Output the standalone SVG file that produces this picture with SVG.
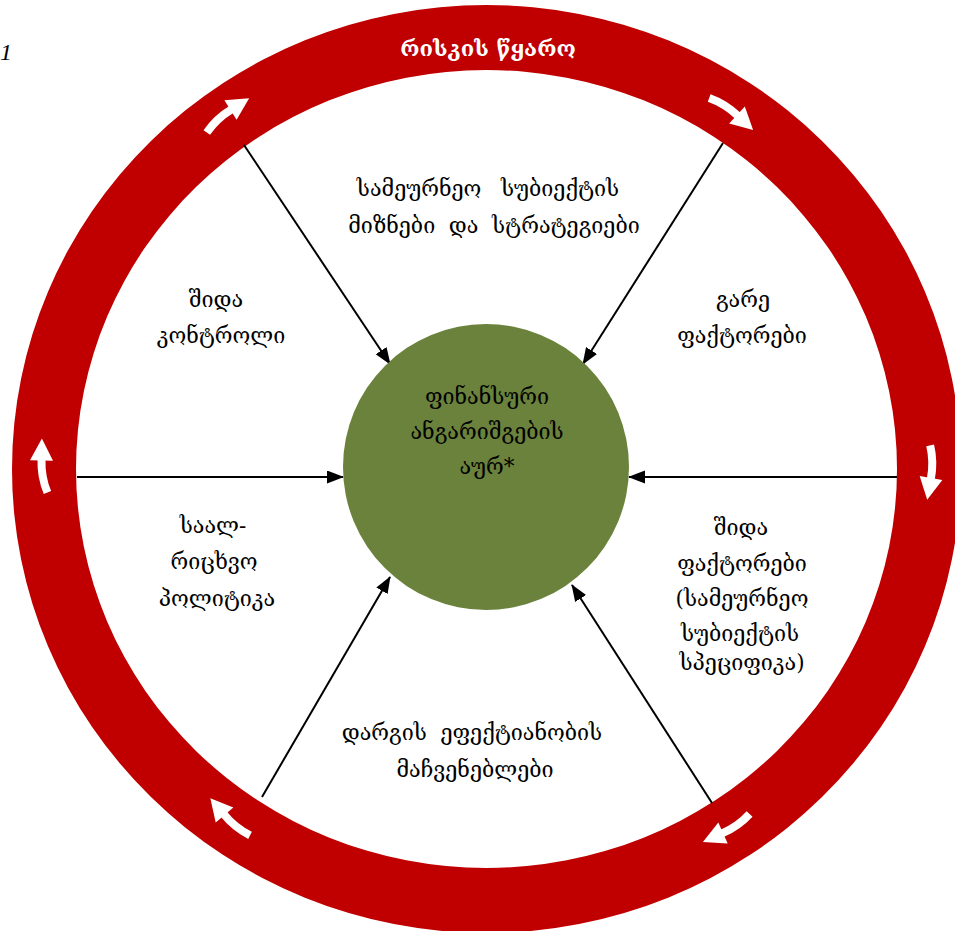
<svg xmlns="http://www.w3.org/2000/svg" width="955" height="931" viewBox="0 0 955 931">
<style>
.t{font-family:"DejaVu Serif","DejaVu Sans",serif;font-size:21.5px;fill:#000;text-anchor:middle}
.w{font-family:"DejaVu Serif","DejaVu Sans",serif;font-size:22px;fill:#fff;text-anchor:middle;font-weight:bold}
.c{stroke:#000;stroke-width:2;fill:none;marker-end:url(#ah)}
</style>
<defs>
<marker id="ah" markerUnits="userSpaceOnUse" markerWidth="18" markerHeight="14" refX="16" refY="6.5" orient="auto"><path d="M0,0 L17,6.5 L0,13 z" fill="#000"/></marker>
<g id="wa"><path d="M-32,6.5 A80,80 0 0 1 1,0" stroke="#fff" stroke-width="8" fill="none"/><polygon points="0,-11.5 22,0 0,11.5" fill="#fff"/></g>
</defs>
<rect width="955" height="931" fill="#fff"/>
<text x="0" y="60" font-family="Liberation Serif" font-style="italic" font-size="24">1</text>
<g id="ring">
<path fill="#C00000" fill-rule="evenodd" d="M12,469 A474.5,464 0 1 0 961,469 A474.5,464 0 1 0 12,469 Z M76,469 A410.5,399 0 1 0 897,469 A410.5,399 0 1 0 76,469 Z"/>
<text class="w" x="488" y="56">რისკის წყარო</text>
<use href="#wa" transform="translate(230.5,110) rotate(-32)"/>
<use href="#wa" transform="translate(737,115) rotate(43)"/>
<use href="#wa" transform="translate(931,478) rotate(100)"/>
<use href="#wa" transform="translate(723,833) rotate(156)"/>
<use href="#wa" transform="translate(224.5,815) rotate(-130)"/>
<use href="#wa" transform="translate(41.5,460.5) rotate(-89)"/>
</g>
<g id="connectors">
<line class="c" x1="244" y1="145" x2="390" y2="364"/>
<line class="c" x1="723" y1="143" x2="583" y2="364"/>
<line class="c" x1="77" y1="477" x2="343" y2="477"/>
<line class="c" x1="897" y1="477" x2="629" y2="477"/>
<line class="c" x1="262" y1="797" x2="390" y2="577"/>
<line class="c" x1="712" y1="803" x2="572" y2="585"/>
</g>
<g id="center">
<circle cx="486" cy="467" r="143" fill="#6A823B"/>
<text class="t" x="487" y="404">ფინანსური</text>
<text class="t" x="487" y="439">ანგარიშგების</text>
<text class="t" x="487" y="474">აურ*</text>
</g>
<g id="n-top">
<text class="t" x="488" y="196" xml:space="preserve" word-spacing="3">სამეურნეო  სუბიექტის</text>
<text class="t" x="494" y="233" xml:space="preserve">მიზნები  და  სტრატეგიები</text>
</g>
<g id="n-ul">
<text class="t" x="216" y="307">შიდა</text>
<text class="t" x="221" y="343">კონტროლი</text>
</g>
<g id="n-ur">
<text class="t" x="743" y="307">გარე</text>
<text class="t" x="742" y="343">ფაქტორები</text>
</g>
<g id="n-ll">
<text class="t" x="213" y="533">საალ-</text>
<text class="t" x="214" y="569">რიცხვო</text>
<text class="t" x="217" y="606">პოლიტიკა</text>
</g>
<g id="n-lr">
<text class="t" x="741" y="535">შიდა</text>
<text class="t" x="742" y="571">ფაქტორები</text>
<text class="t" x="742" y="606">(სამეურნეო</text>
<text class="t" x="740" y="641">სუბიექტის</text>
<text class="t" x="742" y="670">სპეციფიკა)</text>
</g>
<g id="n-bottom">
<text class="t" x="472" y="740" xml:space="preserve">დარგის  ეფექტიანობის</text>
<text class="t" x="475" y="777">მაჩვენებლები</text>
</g>
</svg>
